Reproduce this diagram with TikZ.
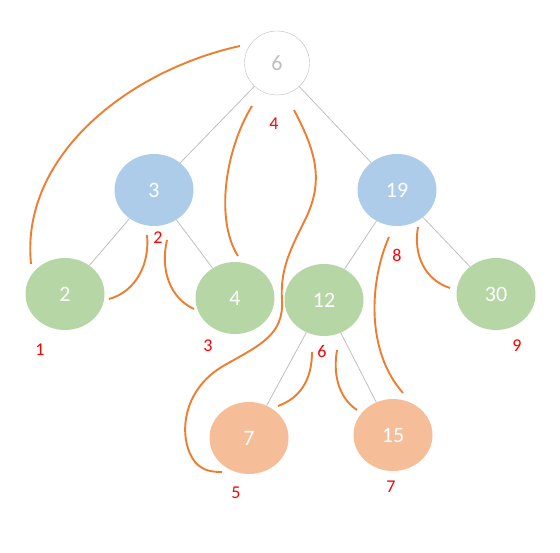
\documentclass[tikz,border=0pt]{standalone}
\usepackage{fontspec}
\setmainfont{Carlito}
\usetikzlibrary{shapes.geometric}
\definecolor{bleu}{HTML}{ADCCE9}
\definecolor{vert}{HTML}{B6D6A6}
\definecolor{peche}{HTML}{F5BE98}
\definecolor{trait}{HTML}{ED7D31}
\definecolor{gris}{HTML}{BFBFBF}

\begin{document}
\begin{tikzpicture}[x=1pt,y=-1pt,
  cercle/.style={ellipse, inner sep=0, minimum width=79, minimum height=72,
    text=white, font=\fontsize{22}{22}\selectfont},
  racine/.style={cercle, draw=gris, fill=white, text=gris, minimum width=65, minimum height=64},
  interne/.style={cercle, fill=bleu},
  feuille/.style={cercle, fill=vert},
  bas/.style={cercle, fill=peche},
  ordre/.style={text=red, font=\fontsize{18}{18}\selectfont},
  arete/.style={draw=gris, line width=0.8pt},
  parcours/.style={draw=trait, line width=1.9pt}]
\useasboundingbox (0,0) rectangle (560,553);
\node [racine] (noeud6) at (277,63) {6};
\node [interne] (noeud3) at (154,190) {3};
\node [interne] (noeud19) at (397,190) {19};
\node [feuille] (noeud2) at (65,294) {2};
\node [feuille] (noeud4) at (235,298) {4};
\node [feuille] (noeud12) at (324,300) {12};
\node [feuille] (noeud30) at (496,294) {30};
\node [bas] (noeud7) at (249,438) {7};
\node [bas] (noeud15) at (393,435) {15};
\draw [arete] (noeud6) -- (noeud3);
\draw [arete] (noeud6) -- (noeud19);
\draw [arete] (noeud3) -- (noeud2);
\draw [arete] (noeud3) -- (noeud4);
\draw [arete] (noeud19) -- (noeud12);
\draw [arete] (noeud19) -- (noeud30);
\draw [arete] (noeud12) -- (noeud7);
\draw [arete] (noeud12) -- (noeud15);
% ordre de visite
\node [ordre] (num1) at (40,350) {1};
\node [ordre] (num2) at (158,238) {2};
\node [ordre] (num3) at (208,346) {3};
\node [ordre] (num4) at (274,124) {4};
\node [ordre] (num5) at (236,493) {5};
\node [ordre] (num6) at (322,351) {6};
\node [ordre] (num7) at (391,487) {7};
\node [ordre] (num8) at (397,255) {8};
\node [ordre] (num9) at (517,346) {9};
% parcours
\draw [parcours] (240,46) .. controls (130,70) and (20,155) .. (31,264);
\draw [parcours] (147,235) .. controls (150,265) and (135,292) .. (109,299);
\draw [parcours] (167,240) .. controls (160,270) and (170,298) .. (194,309);
\draw [parcours] (252,106) .. controls (225,150) and (215,220) .. (238,256);
\draw [parcours] (294,110) .. controls (315,150) and (325,180) .. (305,220)
  .. controls (290,250) and (280,270) .. (282,300)
  .. controls (284,335) and (260,345) .. (225,365)
  .. controls (180,390) and (178,440) .. (195,462)
  .. controls (203,471) and (212,472) .. (222,472);
\draw [parcours] (312,352) .. controls (312,380) and (300,398) .. (278,406);
\draw [parcours] (337,350) .. controls (332,380) and (342,400) .. (357,410);
\draw [parcours] (389,237) .. controls (370,280) and (365,350) .. (403,393);
\draw [parcours] (418,227) .. controls (413,255) and (425,280) .. (450,288);
\end{tikzpicture}
\end{document}
